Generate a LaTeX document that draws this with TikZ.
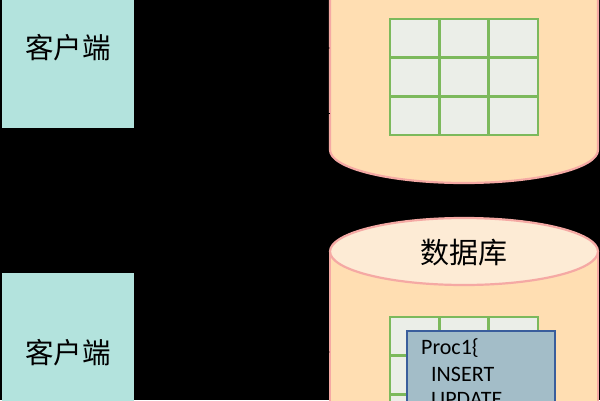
\documentclass[tikz,border=0pt]{standalone}
\usepackage{fontspec}
\setmainfont{Carlito}
\newfontfamily\cjk{Noto Sans CJK SC}
\usetikzlibrary{arrows.meta}
\definecolor{clientfill}{HTML}{B3E3DD}
\definecolor{dbfill}{HTML}{FFDEB2}
\definecolor{dbtop}{HTML}{FDEBD5}
\definecolor{dbline}{HTML}{F5A9A4}
\definecolor{cellfill}{HTML}{EBEEE8}
\definecolor{cellline}{HTML}{7CB95C}
\definecolor{procfill}{HTML}{A3BDC8}
\definecolor{procline}{HTML}{3A5E9C}
\tikzset{
  client/.style={rectangle, fill=clientfill, draw=none, minimum width=132pt, minimum height=160pt, inner sep=0pt, font=\cjk\fontsize{28.5}{30}\selectfont},
  dbbody/.style={fill=dbfill, draw=dbline, line width=2.2pt},
  dbcap/.style={fill=dbtop, draw=dbline, line width=2.2pt},
  gridcell/.style={fill=cellfill, draw=cellline, line width=2.6pt},
  procbox/.style={fill=procfill, draw=procline, line width=1.8pt},
  proctext/.style={anchor=west, inner sep=0pt, font=\fontsize{22}{26}\selectfont},
  link/.style={draw=black, line width=1pt, -{Stealth[length=8pt]}}
}
\begin{document}
\begin{tikzpicture}[x=1pt,y=1pt]
\useasboundingbox (0,0) rectangle (600,400);
\fill[black] (0,0) rectangle (600,400);
% clients
\node[client] (c1) at (68,352) {客户端};
\node[client] (c2) at (68,47) {客户端};
% top cylinder
\path[dbbody] (330,470) -- (330,250) arc[start angle=180,end angle=360,x radius=134pt,y radius=33pt] -- (598,470);
\coordinate (db1a) at (330,352);
\coordinate (db1b) at (330,287);
% top grid
\foreach \i in {0,1,2} \foreach \j in {0,1,2} {
  \path[gridcell] (390+49.33*\i,381-38.67*\j) rectangle (390+49.33*\i+49.33,381-38.67*\j-38.67);
}
% bottom cylinder
\path[dbbody] (330,148.5) -- (330,-60) -- (598,-60) -- (598,148.5);
\path[dbcap] (464,148.5) ellipse[x radius=134pt,y radius=33.5pt];
\node[font=\cjk\fontsize{29}{30}\selectfont, inner sep=0pt] (dbl) at (464,147) {数据库};
\coordinate (db2a) at (330,48);
% bottom grid
\foreach \i in {0,1,2} \foreach \j in {0,1,2} {
  \path[gridcell] (390+49.33*\i,83-38.67*\j) rectangle (390+49.33*\i+49.33,83-38.67*\j-38.67);
}
% procedure box
\path[procbox] (407,69) rectangle (555,-40);
\node[proctext] (p1) at (421,52) {Proc1\{};
\node[proctext] (p2) at (431,26) {INSERT};
\node[proctext] (p3) at (431,0) {UPDATE};
% connectors (black on black)
\draw[link] (c1.east |- db1a) -- (db1a);
\draw[link] (db1b) -- (c1.east |- db1b);
\draw[link] (c2.east |- db2a) -- (db2a);
\end{tikzpicture}
\end{document}
